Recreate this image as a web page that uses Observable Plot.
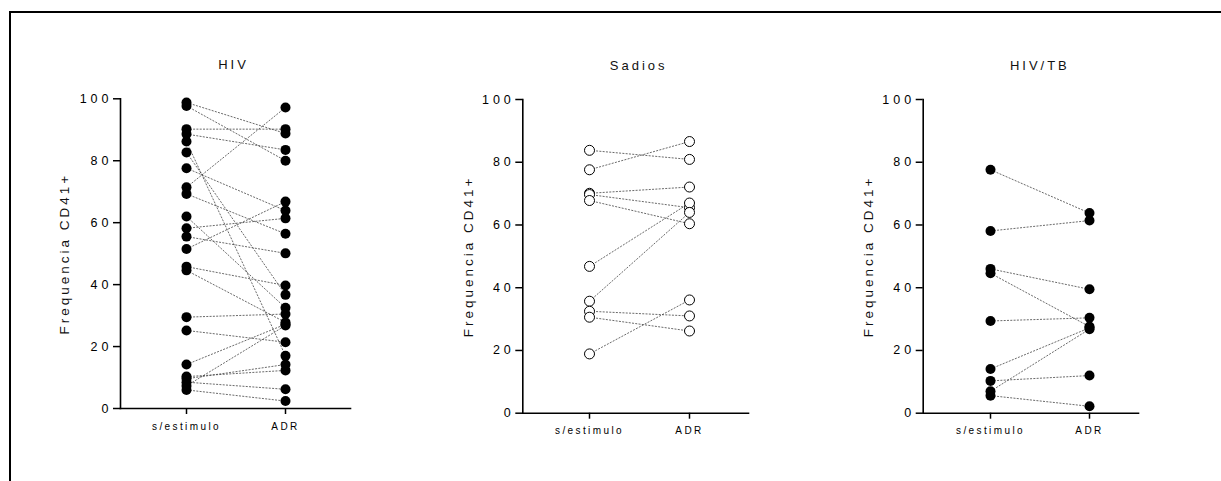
<!DOCTYPE html>
<html>
<head>
<meta charset="utf-8">
<script src="https://cdn.jsdelivr.net/npm/d3@7"></script>
<script src="https://cdn.jsdelivr.net/npm/@observablehq/plot@0.6"></script>
<style>
  html, body { margin: 0; padding: 0; background: #fff; }
  #wrap { position: relative; width: 1221px; height: 481px; overflow: hidden; background: #fff; }
  #border { position: absolute; left: 9px; top: 11px; width: 1230px; height: 500px;
            border-top: 2px solid #000; border-left: 2px solid #000; box-sizing: border-box; }
  .panel { position: absolute; top: 0; }
</style>
</head>
<body>
<div id="wrap"><div id="border"></div></div>
<script>
// ---- data ----
const categories = ["s/estimulo", "ADR"];
const yTicks = [0, 20, 40, 60, 80, 100];
const yLabel = "Frequencia CD41+";
const panelTitles = ["HIV", "Sadios", "HIV/TB"];

const hivBefore = [98.8, 97.7, 90.2, 88.6, 86.2, 82.7, 77.6, 71.4, 69.3, 62.0, 58.2, 55.5, 51.5, 45.8, 44.6, 29.5, 25.2, 14.2, 10.3, 9.6, 8.5, 7.3, 6.0];
const hivAfter  = [88.8, 80.0, 90.2, 83.5, 17.0, 36.7, 63.9, 97.2, 56.4, 32.5, 61.4, 50.1, 66.8, 39.7, 27.8, 30.5, 21.4, 27.2, 12.3, 14.2, 6.2, 26.8, 2.4];

const sadiosBefore = [83.8, 77.6, 70.1, 69.7, 67.8, 46.8, 35.7, 32.5, 30.6, 18.9];
const sadiosAfter  = [80.9, 86.6, 72.1, 65.5, 60.4, 67.0, 64.0, 31.0, 26.2, 36.1];

const tbBefore = [77.6, 58.1, 46.0, 44.6, 29.4, 14.1, 10.3, 7.0, 5.6];
const tbAfter  = [63.8, 61.4, 39.5, 27.6, 30.4, 27.2, 12.0, 26.8, 2.2];

// ---- layout ----
const panels = [
  {title: panelTitles[0], before: hivBefore, after: hivAfter, filled: true,
   left: 0, width: 400, marginLeft: 120, marginRight: 50, yTop: 98.3, yBottom: 408,
   catRange: [185.7, 285], titleDx: -2, labelDx: -56},
  {title: panelTitles[1], before: sadiosBefore, after: sadiosAfter, filled: false,
   left: 400, width: 400, marginLeft: 122.3, marginRight: 52, yTop: 99, yBottom: 412.7,
   catRange: [189, 289], titleDx: 3, labelDx: -54.5},
  {title: panelTitles[2], before: tbBefore, after: tbAfter, filled: true,
   left: 800, width: 421, marginLeft: 122.7, marginRight: 83, yTop: 99, yBottom: 412.7,
   catRange: [190, 289], titleDx: 9, labelDx: -55}
];

const H = 481;
const wrap = document.getElementById("wrap");

for (const p of panels) {
  const pairs = p.before.map((b, i) => ({b, a: p.after[i]}));
  const chart = Plot.plot({
    width: p.width,
    height: H,
    marginLeft: p.marginLeft,
    marginRight: p.marginRight,
    marginTop: p.yTop,
    marginBottom: H - p.yBottom,
    x: {type: "point", domain: categories, range: p.catRange, padding: 0},
    y: {domain: [0, 100]},
    style: {fontFamily: "'Liberation Sans', Arial, sans-serif", color: "#000", background: "transparent", overflow: "visible"},
    marks: [
      Plot.link(pairs, {x1: () => categories[0], x2: () => categories[1], y1: "b", y2: "a",
        stroke: "#444", strokeWidth: 0.8, strokeDasharray: "2,1.3"}),
      Plot.frame({anchor: "left", stroke: "#000", strokeWidth: 1.6}),
      Plot.frame({anchor: "bottom", stroke: "#000", strokeWidth: 1.6}),
      Plot.axisY({ticks: yTicks, tickSize: 7, tickPadding: 1, fontSize: 12.5, label: null,
        tickFormat: d => String(d), strokeWidth: 1.5}),
      Plot.axisX({ticks: categories, tickSize: 6, tickPadding: 8, fontSize: 10, label: null, strokeWidth: 1.5}),
      Plot.dot(p.before, {x: () => categories[0], y: d => d, r: 5,
        fill: p.filled ? "#000" : "#fff", stroke: "#000", strokeWidth: p.filled ? 0 : 1}),
      Plot.dot(p.after, {x: () => categories[1], y: d => d, r: 5,
        fill: p.filled ? "#000" : "#fff", stroke: "#000", strokeWidth: p.filled ? 0 : 1}),
      Plot.text([p.title], {frameAnchor: "top", dy: -34, dx: p.titleDx, fontSize: 13, fill: "#111",
        textAnchor: "middle", lineAnchor: "middle"}),
      Plot.text([yLabel], {frameAnchor: "left", rotate: -90, dx: p.labelDx, fontSize: 13.5, fill: "#111", textAnchor: "middle"})
    ]
  });
  const div = document.createElement("div");
  div.className = "panel";
  div.style.left = p.left + "px";
  div.appendChild(chart);
  wrap.appendChild(div);

  const svg = d3.select(chart);
  svg.selectAll('g[aria-label="y-axis tick label"] text').style("letter-spacing", "4px");
  svg.selectAll('g[aria-label="x-axis tick label"] text').style("letter-spacing", "2.4px");
  svg.selectAll('g[aria-label="text"] text').style("letter-spacing", "3px");
}
</script>
</body>
</html>
